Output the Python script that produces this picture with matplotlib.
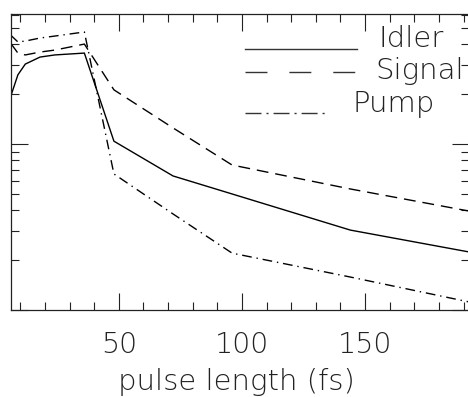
import matplotlib
matplotlib.use("Agg")
import matplotlib.pyplot as plt
from matplotlib.lines import Line2D
from matplotlib.ticker import MultipleLocator, LogLocator, NullFormatter

# données
pulse_fs = [6, 9, 12, 18, 24, 36, 48, 72, 96, 144, 192]
idler = [19.2, 26.1, 30.3, 33.4, 34.4, 35.3, 10.4, 6.42, 5.0, 3.03, 2.24]
signal = [40.6, 35.3, 34.4, 35.8, 36.8, 40.0, 21.2, 12.5, 7.47, 5.36, 3.95]
pump = [45.4, 41.2, 41.7, 43.5, 44.7, 47.3, 6.60, 3.79, 2.20, 1.58, 1.12]
series_labels = ["Idler", "Signal", "Pump"]
x_major = 50
x_minor = 10

W, H = 468, 397
FONT = {"family": ["DejaVu Sans"], "weight": 200}


def px(x, y):
    # pixels (haut-gauche) -> fraction de figure
    return x / W, 1 - y / H


fig = plt.figure(figsize=(W / 100, H / 100), dpi=100)
ax = fig.add_axes([10.5 / W, 1 - 310 / H, 458 / W, 296 / H])

ax.plot(pulse_fs, idler, color="black", lw=1.0)
ax.plot(pulse_fs, signal, color="black", lw=1.0, dashes=(8.5, 5))
ax.plot(pulse_fs, pump, color="black", lw=1.0, dashes=(7, 3.5, 1, 3.5))

ax.set_yscale("log")
ax.set_xlim(6, 192)
ax.set_ylim(1, 60.7)

ax.xaxis.set_major_locator(MultipleLocator(x_major))
ax.xaxis.set_minor_locator(MultipleLocator(x_minor))
ax.yaxis.set_major_locator(LogLocator(base=10))
ax.yaxis.set_minor_locator(LogLocator(base=10, subs=range(2, 10)))
ax.yaxis.set_major_formatter(NullFormatter())
ax.yaxis.set_minor_formatter(NullFormatter())

ax.tick_params(which="both", direction="in", top=True, right=True,
               width=0.8, color="#222222", labelleft=False)
ax.tick_params(which="major", length=12.2, pad=15, labelsize=20.5)
ax.tick_params(which="minor", length=6)
for lab in ax.get_xticklabels():
    lab.set_fontfamily(FONT["family"])
    lab.set_fontweight(FONT["weight"])
    lab.set_color("#222222")
for sp in ax.spines.values():
    sp.set_linewidth(0.9)
    sp.set_color("#222222")

# légende dessinée à la main, comme dans l'original
samples = [
    dict(x0=245, x1=357, y=49, dashes=None),
    dict(x0=245, x1=355, y=72, dashes=(15.8, 15.8)),
    dict(x0=245, x1=329, y=113, dashes=(11.5, 3.6, 1.5, 3.6)),
]
text_pos = [(378, 47), (375, 79), (352, 112)]
for s, lab, (tx, ty) in zip(samples, series_labels, text_pos):
    xa, ya = px(s["x0"], s["y"])
    xb, yb = px(s["x1"], s["y"])
    ln = Line2D([xa, xb], [ya, yb], transform=fig.transFigure,
                color="#333333", lw=1.0)
    if s["dashes"]:
        ln.set_dashes(s["dashes"])
    fig.add_artist(ln)
    fx, fy = px(tx, ty)
    fig.text(fx, fy, lab, ha="left", va="baseline", fontsize=21,
             color="#222222", **FONT)

fx, fy = px(236, 390)
fig.text(fx, fy, "pulse length (fs)", ha="center", va="baseline",
         fontsize=21, color="#222222", **FONT)

fig.savefig("out.png", dpi=100)
